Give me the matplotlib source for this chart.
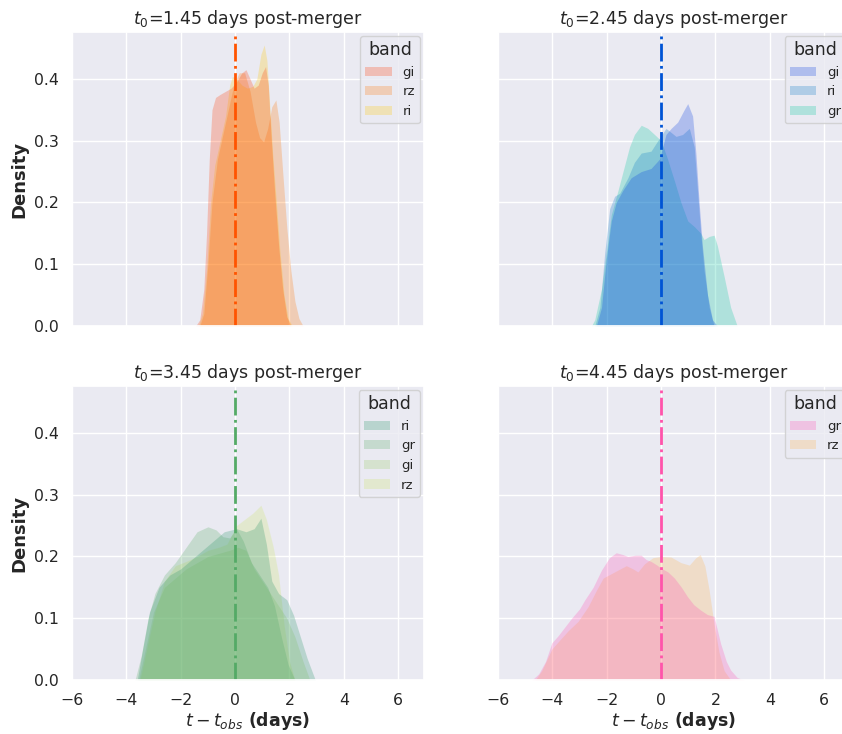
import matplotlib
matplotlib.use("Agg")
import matplotlib.pyplot as plt
import seaborn as sns

# offsets t - t_obs (days) and KDE densities per band, one set per t0
t0_days = [1.45, 2.45, 3.45, 4.45]

# t0 = 1.45
bands_1 = ["gi", "rz", "ri"]
t_gi_1 = [-1.45, -1.30, -1.15, -1.05, -0.95, -0.85, -0.72, -0.55, -0.35, -0.15, 0.05, 0.25, 0.40,
          0.55, 0.70, 0.85, 1.00, 1.12, 1.22, 1.32, 1.45, 1.60, 1.75, 1.90, 2.05]
d_gi_1 = [0, 0.01, 0.06, 0.15, 0.27, 0.35, 0.37, 0.375, 0.38, 0.385, 0.395, 0.41, 0.415,
          0.40, 0.385, 0.39, 0.41, 0.42, 0.39, 0.31, 0.22, 0.13, 0.06, 0.015, 0]
t_rz_1 = [-1.30, -1.15, -1.00, -0.85, -0.65, -0.45, -0.25, -0.05, 0.15, 0.35, 0.55, 0.75,
          0.90, 1.05, 1.20, 1.35, 1.50, 1.62, 1.75, 1.90, 2.05, 2.20, 2.35, 2.50]
d_rz_1 = [0, 0.02, 0.10, 0.20, 0.27, 0.31, 0.35, 0.39, 0.41, 0.41, 0.38, 0.33,
          0.305, 0.298, 0.32, 0.355, 0.366, 0.33, 0.25, 0.16, 0.09, 0.04, 0.012, 0]
t_ri_1 = [-1.35, -1.20, -1.05, -0.90, -0.75, -0.55, -0.35, -0.20, -0.10, 0.05, 0.25, 0.45,
          0.65, 0.80, 0.95, 1.07, 1.17, 1.27, 1.38, 1.50, 1.65, 1.80, 1.95, 2.10]
d_ri_1 = [0, 0.02, 0.09, 0.20, 0.26, 0.30, 0.34, 0.39, 0.404, 0.40, 0.39, 0.385,
          0.388, 0.40, 0.44, 0.455, 0.43, 0.36, 0.28, 0.21, 0.12, 0.05, 0.012, 0]

# t0 = 2.45
bands_2 = ["gi", "ri", "gr"]
t_gi_2 = [-2.38, -2.19, -2.01, -1.83, -1.65, -1.40, -1.10, -0.73, -0.37, -0.06, 0.18, 0.37,
          0.61, 0.85, 0.98, 1.16, 1.28, 1.40, 1.52, 1.71, 1.89, 2.07]
d_gi_2 = [0, 0.03, 0.11, 0.17, 0.20, 0.22, 0.24, 0.25, 0.255, 0.27, 0.31, 0.32,
          0.33, 0.35, 0.36, 0.34, 0.28, 0.20, 0.13, 0.05, 0.01, 0]
t_ri_2 = [-2.44, -2.25, -2.07, -1.89, -1.71, -1.52, -1.22, -0.98, -0.73, -0.37, -0.12, 0.18,
          0.55, 0.79, 1.04, 1.22, 1.34, 1.46, 1.58, 1.77, 1.95]
d_ri_2 = [0, 0.03, 0.12, 0.19, 0.21, 0.215, 0.24, 0.265, 0.28, 0.283, 0.30, 0.32,
          0.307, 0.31, 0.32, 0.29, 0.22, 0.15, 0.09, 0.03, 0]
t_gr_2 = [-2.56, -2.44, -2.19, -2.01, -1.83, -1.58, -1.40, -1.16, -0.98, -0.73, -0.49, -0.24,
          0.0, 0.24, 0.49, 0.73, 0.98, 1.22, 1.46, 1.58, 1.77, 1.95, 2.07, 2.32, 2.56, 2.80]
d_gr_2 = [0, 0.01, 0.06, 0.12, 0.18, 0.22, 0.25, 0.29, 0.31, 0.325, 0.32, 0.31,
          0.30, 0.27, 0.235, 0.20, 0.17, 0.161, 0.15, 0.14, 0.145, 0.147, 0.13, 0.08, 0.03, 0]

# t0 = 3.45
bands_3 = ["ri", "gr", "gi", "rz"]
t_ri_3 = [-3.60, -3.40, -3.15, -2.80, -2.40, -2.00, -1.60, -1.20, -0.80, -0.40, 0.05, 0.40,
          0.70, 0.95, 1.15, 1.35, 1.60, 1.90, 2.15, 2.40, 2.65, 2.95]
d_ri_3 = [0, 0.05, 0.11, 0.15, 0.17, 0.18, 0.195, 0.21, 0.225, 0.24, 0.245, 0.24,
          0.245, 0.262, 0.22, 0.16, 0.14, 0.13, 0.105, 0.07, 0.035, 0]
t_gr_3 = [-3.68, -3.45, -3.20, -2.95, -2.60, -2.20, -1.80, -1.40, -1.00, -0.70, -0.45, -0.20,
          0.05, 0.30, 0.60, 0.90, 1.20, 1.45, 1.70, 1.95, 2.20]
d_gr_3 = [0, 0.04, 0.10, 0.14, 0.17, 0.19, 0.215, 0.24, 0.248, 0.243, 0.232, 0.23,
          0.245, 0.225, 0.19, 0.17, 0.15, 0.12, 0.07, 0.025, 0]
t_gi_3 = [-3.55, -3.30, -3.00, -2.60, -2.20, -1.80, -1.40, -1.00, -0.60, -0.20, 0.10, 0.40,
          0.70, 1.00, 1.30, 1.60, 1.90, 2.20, 2.50, 2.75]
d_gi_3 = [0, 0.05, 0.11, 0.15, 0.165, 0.18, 0.19, 0.20, 0.205, 0.21, 0.215, 0.21,
          0.18, 0.16, 0.14, 0.12, 0.10, 0.07, 0.03, 0]
t_rz_3 = [-3.50, -3.25, -2.95, -2.60, -2.20, -1.80, -1.40, -1.00, -0.60, -0.30, 0.05, 0.35,
          0.65, 0.95, 1.15, 1.40, 1.60, 1.80, 2.00, 2.20]
d_rz_3 = [0, 0.05, 0.11, 0.16, 0.185, 0.192, 0.20, 0.21, 0.215, 0.22, 0.25, 0.26,
          0.27, 0.283, 0.26, 0.216, 0.17, 0.09, 0.03, 0]

# t0 = 4.45
bands_4 = ["gr", "rz"]
t_gr_4 = [-4.75, -4.50, -4.25, -4.02, -3.78, -3.50, -3.29, -3.00, -2.80, -2.50, -2.19, -1.90,
          -1.65, -1.40, -1.22, -0.95, -0.73, -0.55, -0.37, -0.15, 0.0, 0.25, 0.49, 0.75,
          0.97, 1.20, 1.46, 1.70, 1.95, 2.19, 2.40, 2.56, 2.80, 3.05]
d_gr_4 = [0, 0.01, 0.03, 0.06, 0.072, 0.088, 0.10, 0.115, 0.13, 0.15, 0.178, 0.198,
          0.206, 0.203, 0.200, 0.202, 0.202, 0.195, 0.192, 0.186, 0.181, 0.175, 0.165, 0.15,
          0.135, 0.122, 0.113, 0.106, 0.103, 0.059, 0.03, 0.016, 0.004, 0]
t_rz_4 = [-4.63, -4.39, -4.02, -3.78, -3.41, -3.05, -2.68, -2.38, -2.13, -1.71, -1.28, -1.04,
          -0.85, -0.61, -0.30, 0.0, 0.37, 0.73, 1.04, 1.28, 1.44, 1.61, 1.77, 1.95,
          2.13, 2.32, 2.56]
d_rz_4 = [0, 0.015, 0.05, 0.062, 0.08, 0.095, 0.119, 0.145, 0.165, 0.175, 0.185, 0.18,
          0.175, 0.188, 0.198, 0.2, 0.199, 0.19, 0.186, 0.198, 0.203, 0.185, 0.145, 0.09,
          0.045, 0.015, 0]

curves = [
    {"gi": (t_gi_1, d_gi_1), "rz": (t_rz_1, d_rz_1), "ri": (t_ri_1, d_ri_1)},
    {"gi": (t_gi_2, d_gi_2), "ri": (t_ri_2, d_ri_2), "gr": (t_gr_2, d_gr_2)},
    {"ri": (t_ri_3, d_ri_3), "gr": (t_gr_3, d_gr_3), "gi": (t_gi_3, d_gi_3), "rz": (t_rz_3, d_rz_3)},
    {"gr": (t_gr_4, d_gr_4), "rz": (t_rz_4, d_rz_4)},
]
band_order = [bands_1, bands_2, bands_3, bands_4]

# one colormap per panel, band colours and the t_obs marker taken from it
cmaps = ["autumn", "winter", "summer", "spring"]
cmap_pos = [[0.23, 0.46, 0.78], [0.23, 0.46, 0.78], [0.15, 0.35, 0.6, 0.8], [0.3, 0.7]]

sns.set_theme(style="darkgrid")

fig = plt.figure(figsize=(8.42, 7.34), dpi=100)
lefts = [0.0855, 0.5914]
bottoms = [0.5559, 0.0736]
w, h = 0.4181, 0.4005

for i in range(4):
    row, col = divmod(i, 2)
    ax = fig.add_axes([lefts[col], bottoms[row], w, h])
    cmap = plt.get_cmap(cmaps[i])
    handles = {}
    # first band ends up on top, like seaborn's hue layering
    for band, pos in reversed(list(zip(band_order[i], cmap_pos[i]))):
        t, d = curves[i][band]
        handles[band] = ax.fill_between(t, d, color=cmap(pos), alpha=0.25,
                                        linewidth=0, label=band)
    ax.axvline(0, color=cmap(0.33), linestyle="-.", linewidth=2)

    ax.set_xlim(-5.93, 6.95)
    ax.set_ylim(0, 0.476)
    ax.set_xticks([-6, -4, -2, 0, 2, 4, 6])
    ax.set_yticks([0.0, 0.1, 0.2, 0.3, 0.4])
    ax.tick_params(labelsize=11.3)
    ax.set_title(f"$t_0$={t0_days[i]} days post-merger", fontsize=12.5)
    ax.legend([handles[b] for b in band_order[i]], band_order[i], title="band",
              loc="upper right", fontsize=9.5, title_fontsize=12.5, borderaxespad=0.3)

    if row == 0:
        ax.tick_params(labelbottom=False)
    else:
        ax.set_xlabel(r"$t - t_{obs}$ (days)", fontsize=12.5, fontweight="bold", labelpad=1)
    if col == 1:
        ax.tick_params(labelleft=False)
    else:
        ax.set_ylabel("Density", fontsize=13, fontweight="bold")

fig.savefig("out.png", dpi=100)
